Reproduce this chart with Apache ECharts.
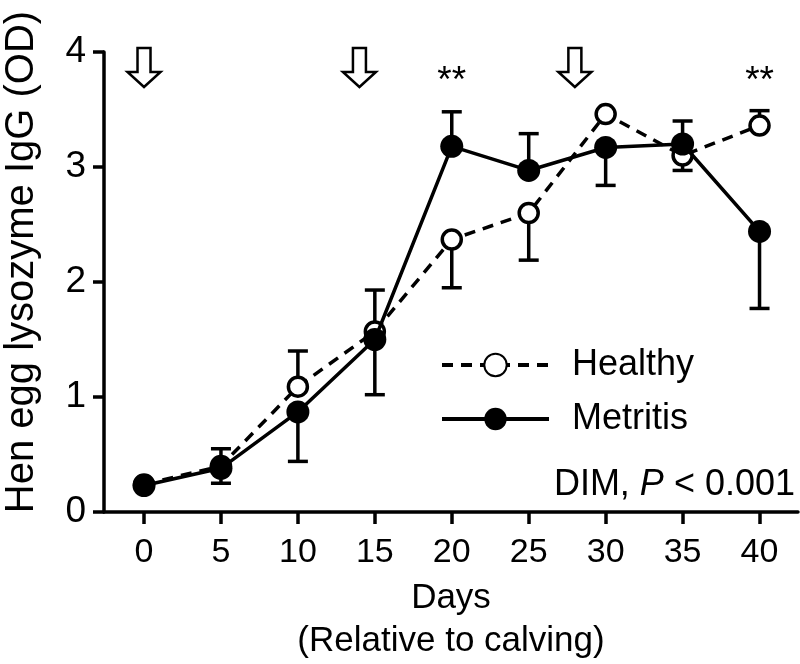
<!DOCTYPE html>
<html>
<head>
<meta charset="utf-8">
<script src="https://cdn.jsdelivr.net/npm/echarts@6/dist/echarts.min.js"></script>
<style>html,body{margin:0;padding:0;background:#fff}#c{width:800px;height:664px}</style>
</head>
<body>
<div id="c"></div>
<script>
const days = [0, 5, 10, 15, 20, 25, 30, 35, 40];
const xTicks = [0, 5, 10, 15, 20, 25, 30, 35, 40];
const healthy = [0.24, 0.40, 1.09, 1.57, 2.37, 2.60, 3.46, 3.10, 3.36];
const metritis = [0.23, 0.38, 0.87, 1.50, 3.18, 2.97, 3.17, 3.20, 2.44];
const healthyErrHigh = [null, null, 1.40, null, null, null, null, null, 3.49];
const healthyErrLow = [null, 0.25, null, null, 1.95, 2.19, null, 2.97, null];
const metritisErrHigh = [null, 0.55, null, 1.93, 3.48, 3.29, null, 3.40, null];
const metritisErrLow = [null, null, 0.44, 1.02, null, null, 2.84, null, 1.77];
const arrowDays = [0, 14, 28];
const sigDays = [20, 40];
const sigLabels = ['**', '**'];

const FONT = 'Liberation Sans, Arial, sans-serif';
const LW = 3.5;

function errData(vals, hi, lo) {
  const out = [];
  days.forEach((d, i) => {
    if (hi[i] != null) out.push([d, vals[i], hi[i]]);
    if (lo[i] != null) out.push([d, vals[i], lo[i]]);
  });
  return out;
}

function errRender(params, api) {
  const p0 = api.coord([api.value(0), api.value(1)]);
  const p1 = api.coord([api.value(0), api.value(2)]);
  const st = { stroke: '#000', lineWidth: LW };
  return {
    type: 'group',
    children: [
      { type: 'line', shape: { x1: p0[0], y1: p0[1], x2: p1[0], y2: p1[1] }, style: st },
      { type: 'line', shape: { x1: p1[0] - 10, y1: p1[1], x2: p1[0] + 10, y2: p1[1] }, style: st }
    ]
  };
}

const chart = echarts.init(document.getElementById('c'), null, { renderer: 'canvas' });
chart.setOption({
  backgroundColor: '#fff',
  animation: false,
  textStyle: { fontFamily: FONT },
  grid: { left: 104, right: 2, top: 52, bottom: 152, containLabel: false },
  xAxis: {
    type: 'value', min: -2.6, max: 42.5,
    splitLine: { show: false },
    axisLine: { show: true, onZero: false, lineStyle: { color: '#000', width: LW } },
    axisTick: { show: true, customValues: xTicks, length: 12, lineStyle: { color: '#000', width: LW } },
    axisLabel: { customValues: xTicks, color: '#000', fontSize: 34, fontFamily: FONT, margin: 24 }
  },
  yAxis: {
    type: 'value', min: 0, max: 4, interval: 1,
    splitLine: { show: false },
    axisLine: { show: true, onZero: false, lineStyle: { color: '#000', width: LW } },
    axisTick: { show: true, length: 11, lineStyle: { color: '#000', width: LW } },
    axisLabel: { color: '#000', fontSize: 37, fontFamily: FONT, margin: 18 }
  },
  legend: {
    left: 435, top: 340, orient: 'vertical',
    itemWidth: 107, itemHeight: 28, itemGap: 14,
    lineStyle: { width: 4 },
    textStyle: { fontSize: 36, fontFamily: FONT, color: '#000', padding: [0, 0, 0, 18], lineHeight: 40 },
    data: ['Healthy', 'Metritis']
  },
  series: [
    {
      type: 'custom', name: 'hErr', z: 1, renderItem: errRender,
      data: errData(healthy, healthyErrHigh, healthyErrLow), silent: true
    },
    {
      type: 'custom', name: 'mErr', z: 1, renderItem: errRender,
      data: errData(metritis, metritisErrHigh, metritisErrLow), silent: true
    },
    {
      type: 'line', name: 'Healthy', z: 2,
      data: days.map((d, i) => [d, healthy[i]]),
      symbol: 'circle', symbolSize: 19,
      lineStyle: { color: '#000', width: LW, type: [11, 8] },
      itemStyle: { color: '#fff', borderColor: '#000', borderWidth: 3.5 }
    },
    {
      type: 'line', name: 'Metritis', z: 3,
      data: days.map((d, i) => [d, metritis[i]]),
      symbol: 'circle', symbolSize: 23,
      lineStyle: { color: '#000', width: LW },
      itemStyle: { color: '#000', borderColor: '#000', borderWidth: 0 }
    },
    {
      type: 'custom', name: 'arrows', z: 5, clip: false, silent: true,
      data: arrowDays.map(d => [d, 4]),
      renderItem: function (params, api) {
        const p = api.coord([api.value(0), api.value(1)]);
        const x = p[0], y = p[1];
        return {
          type: 'polygon',
          shape: { points: [
            [x - 6.5, y - 4], [x + 6.5, y - 4], [x + 6.5, y + 20], [x + 16.5, y + 20],
            [x, y + 35], [x - 16.5, y + 20], [x - 6.5, y + 20]
          ] },
          style: { fill: '#fff', stroke: '#000', lineWidth: 2.5 }
        };
      }
    },
    {
      type: 'custom', name: 'sig', z: 5, clip: false, silent: true,
      data: sigDays.map((d, i) => [d, 4, i]),
      renderItem: function (params, api) {
        const p = api.coord([api.value(0), api.value(1)]);
        return {
          type: 'text',
          style: {
            x: p[0], y: p[1] + 30, text: sigLabels[api.value(2)],
            fontSize: 37, fontFamily: FONT, fill: '#000',
            align: 'center', verticalAlign: 'middle'
          }
        };
      }
    }
  ],
  graphic: [
    {
      type: 'text', x: 795, y: 485,
      style: {
        text: 'DIM, {i|P} < 0.001', fontSize: 36, fontFamily: FONT, fill: '#000',
        align: 'right', verticalAlign: 'middle',
        rich: { i: { fontStyle: 'italic', fontSize: 36, fontFamily: FONT, fill: '#000' } }
      }
    },
    {
      type: 'text', x: 451, y: 598,
      style: { text: 'Days', fontSize: 35, fontFamily: FONT, fill: '#000', align: 'center', verticalAlign: 'middle' }
    },
    {
      type: 'text', x: 451, y: 641,
      style: { text: '(Relative to calving)', fontSize: 35, fontFamily: FONT, fill: '#000', align: 'center', verticalAlign: 'middle' }
    },
    {
      type: 'text', x: 22, y: 262, rotation: Math.PI / 2,
      style: { text: 'Hen egg lysozyme IgG (OD)', fontSize: 40, fontFamily: FONT, fill: '#000', align: 'center', verticalAlign: 'middle' }
    }
  ]
});
</script>
</body>
</html>
